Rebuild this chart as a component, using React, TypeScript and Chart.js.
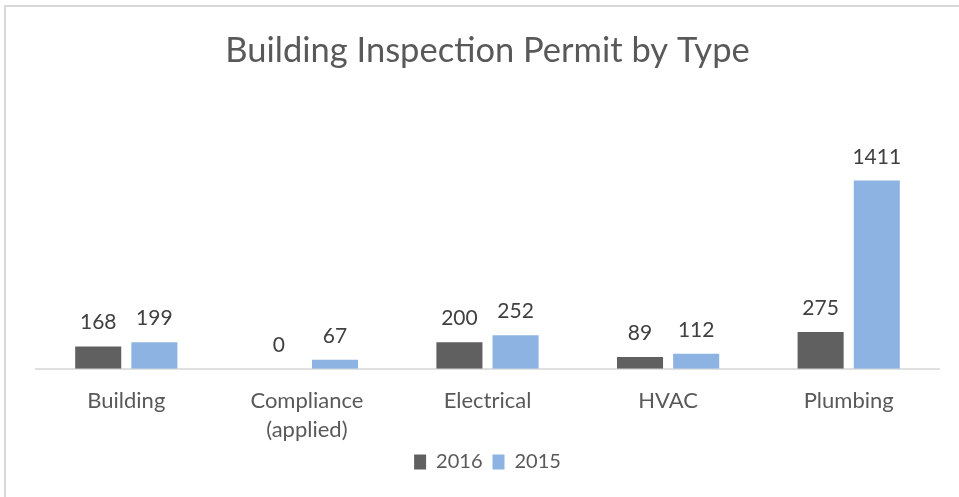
import React, { useEffect, useRef } from "react";
import { Chart, registerables } from "chart.js";

Chart.register(...registerables);

const categories: (string | string[])[] = [
  "Building",
  ["Compliance", "(applied)"],
  "Electrical",
  "HVAC",
  "Plumbing",
];
const series2016 = [168, 0, 200, 89, 275];
const series2015 = [199, 67, 252, 112, 1411];
const seriesLabels = ["2016", "2015"];
const titleText = "Building Inspection Permit by Type";

const FONT = "Lato, 'Open Sans', sans-serif";

const dataLabelPlugin = {
  id: "dataLabels",
  afterDatasetsDraw(chart: any) {
    const { ctx } = chart;
    ctx.save();
    ctx.font = `21px ${FONT}`;
    ctx.fillStyle = "#404040";
    ctx.textAlign = "center";
    ctx.textBaseline = "alphabetic";
    chart.data.datasets.forEach((ds: any, i: number) => {
      const meta = chart.getDatasetMeta(i);
      meta.data.forEach((el: any, j: number) => {
        ctx.fillText(String(ds.data[j]), el.x, el.y - 17);
      });
    });
    ctx.restore();
  },
};

export default function App() {
  const ref = useRef<HTMLCanvasElement | null>(null);
  useEffect(() => {
    if (!ref.current) return;
    const chart = new Chart(ref.current, {
      type: "bar",
      data: {
        labels: categories,
        datasets: [
          {
            label: seriesLabels[0],
            data: series2016,
            backgroundColor: "#606060",
            categoryPercentage: 0.622,
            barPercentage: 0.82,
          },
          {
            label: seriesLabels[1],
            data: series2015,
            backgroundColor: "#8db3e2",
            categoryPercentage: 0.622,
            barPercentage: 0.82,
          },
        ],
      },
      options: {
        animation: false,
        responsive: false,
        layout: { padding: { left: 36, right: 20, top: 0, bottom: 15 } },
        plugins: {
          title: {
            display: true,
            text: titleText,
            color: "#595959",
            font: { family: FONT, size: 34.5, weight: "normal" },
            padding: { top: 30, bottom: 84 },
          },
          legend: {
            position: "bottom",
            labels: {
              color: "#595959",
              font: { family: FONT, size: 20 },
              boxWidth: 12,
              boxHeight: 15,
              padding: 10,
            },
          },
          tooltip: { enabled: false },
        },
        scales: {
          x: {
            grid: { display: false, drawTicks: false },
            border: { display: true, color: "#e0e0e0", width: 2 },
            ticks: {
              color: "#595959",
              font: { family: FONT, size: 22, lineHeight: 1.3 },
              padding: 18,
              maxRotation: 0,
            },
            afterFit: (scale: any) => {
              scale.height -= 20;
            },
          },
          y: {
            display: false,
            min: 0,
            max: 1600,
          },
        },
      },
      plugins: [dataLabelPlugin],
    });
    return () => chart.destroy();
  }, []);
  return (
    <div style={{ position: "fixed", left: 0, top: 0, width: 959, height: 497, background: "#fff" }}>
      <canvas ref={ref} width={959} height={497} style={{ position: "absolute", left: 0, top: 0 }} />
      <div
        style={{
          position: "absolute",
          left: 4,
          top: 5,
          width: 1000,
          height: 600,
          borderTop: "2px solid #d9d9d9",
          borderLeft: "2px solid #d9d9d9",
          pointerEvents: "none",
        }}
      />
    </div>
  );
}
